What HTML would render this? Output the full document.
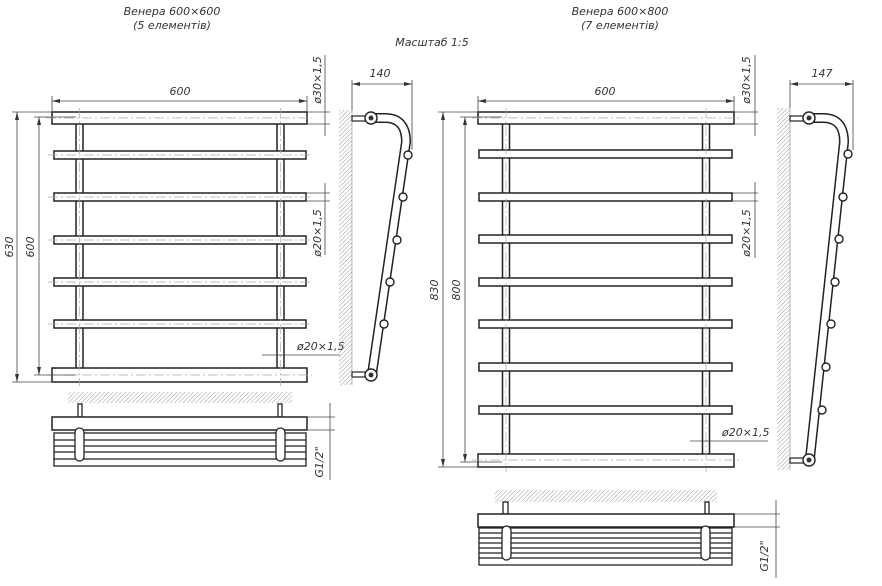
<!DOCTYPE html>
<html><head><meta charset="utf-8"><style>
html,body{margin:0;padding:0;background:#fff;}
svg{display:block}
text{font-family:"DejaVu Sans","Liberation Sans",sans-serif;font-style:italic;fill:#333;font-size:11px}
</style></head><body>
<svg width="882" height="586" viewBox="0 0 882 586" xmlns="http://www.w3.org/2000/svg">
<defs>
<pattern id="h" width="3" height="3" patternUnits="userSpaceOnUse" patternTransform="rotate(45)">
<line x1="0" y1="0" x2="0" y2="3" stroke="#999" stroke-width="1"/></pattern>
<marker id="a" markerWidth="8" markerHeight="6" refX="8" refY="3" orient="auto-start-reverse" markerUnits="userSpaceOnUse">
<path d="M0,1 L8,3 L0,5z" fill="#333"/></marker>
</defs>

<g fill="#fff" stroke="#222" stroke-width="1.6">
</g>

<!-- titles -->
<text x="172" y="15" text-anchor="middle" font-size="12">Венера 600×600</text>
<text x="172" y="29" text-anchor="middle" font-size="12">(5 елементів)</text>
<text x="432" y="46" text-anchor="middle" font-size="12">Масштаб 1:5</text>
<text x="620" y="15" text-anchor="middle" font-size="12">Венера 600×800</text>
<text x="620" y="29" text-anchor="middle" font-size="12">(7 елементів)</text>

<!-- ============ LEFT FRONT ============ -->
<g fill="#fff" stroke="#222" stroke-width="1.5">
<rect x="76" y="114" width="7" height="256" rx="3.5"/>
<rect x="277" y="114" width="7" height="256" rx="3.5"/>
<rect x="52" y="112" width="255" height="12"/>
<rect x="54" y="151" width="252" height="8"/>
<rect x="54" y="193" width="252" height="8"/>
<rect x="54" y="236" width="252" height="8"/>
<rect x="54" y="278" width="252" height="8"/>
<rect x="54" y="320" width="252" height="8"/>
<rect x="52" y="368" width="255" height="14"/>
</g>
<g stroke="#aaa" stroke-width="0.7" stroke-dasharray="10,3,2,3" fill="none">
<line x1="46" y1="118" x2="312" y2="118"/><line x1="46" y1="375" x2="312" y2="375"/>
<line x1="79.5" y1="108" x2="79.5" y2="386"/><line x1="280.5" y1="108" x2="280.5" y2="386"/>
<line x1="48" y1="155" x2="312" y2="155"/><line x1="48" y1="197" x2="312" y2="197"/>
<line x1="48" y1="240" x2="312" y2="240"/><line x1="48" y1="282" x2="312" y2="282"/>
<line x1="48" y1="324" x2="312" y2="324"/>
</g>
<g stroke="#444" stroke-width="0.8" fill="none">
<line x1="52" y1="96" x2="52" y2="112"/><line x1="307" y1="96" x2="307" y2="112"/>
<line x1="52" y1="101" x2="307" y2="101" marker-start="url(#a)" marker-end="url(#a)"/>
<line x1="12" y1="112" x2="52" y2="112"/><line x1="12" y1="382" x2="52" y2="382"/>
<line x1="17" y1="112" x2="17" y2="382" marker-start="url(#a)" marker-end="url(#a)"/>
<line x1="34" y1="117" x2="76" y2="117"/><line x1="34" y1="375" x2="76" y2="375"/>
<line x1="39" y1="117" x2="39" y2="375" marker-start="url(#a)" marker-end="url(#a)"/>
<line x1="307" y1="112" x2="330" y2="112"/><line x1="307" y1="124" x2="330" y2="124"/>
<line x1="325" y1="55" x2="325" y2="136"/>
<line x1="306" y1="193" x2="330" y2="193"/><line x1="306" y1="201" x2="330" y2="201"/>
<line x1="325" y1="183" x2="325" y2="255"/>
<line x1="262" y1="355" x2="340" y2="355"/>
</g>
<text x="180" y="95" text-anchor="middle">600</text>
<text transform="translate(13,247) rotate(-90)" text-anchor="middle">630</text>
<text transform="translate(34,247) rotate(-90)" text-anchor="middle">600</text>
<text transform="translate(321,80) rotate(-90)" text-anchor="middle">ø30×1,5</text>
<text transform="translate(321,233) rotate(-90)" text-anchor="middle">ø20×1,5</text>
<text x="297" y="350">ø20×1,5</text>

<!-- left side view -->
<rect x="339" y="110" width="13" height="275" fill="url(#h)"/>
<line x1="352" y1="110" x2="352" y2="385" stroke="#888" stroke-width="0.6"/>
<g fill="none" stroke-linecap="round">
<path d="M376,118 L385,118 Q406,118 406,142 L372,374" stroke="#222" stroke-width="10"/>
<path d="M376,118 L385,118 Q406,118 406,142 L372,374" stroke="#fff" stroke-width="7"/>
</g>
<rect x="352" y="116" width="14" height="5" fill="#fff" stroke="#222" stroke-width="1.2"/>
<rect x="352" y="372" width="14" height="5" fill="#fff" stroke="#222" stroke-width="1.2"/>
<g fill="#fff" stroke="#222" stroke-width="1.4">
<circle cx="371" cy="118" r="6"/><circle cx="371" cy="375" r="6"/>
<circle cx="408" cy="155" r="4"/><circle cx="403" cy="197" r="4"/><circle cx="397" cy="240" r="4"/>
<circle cx="390" cy="282" r="4"/><circle cx="384" cy="324" r="4"/>
</g>
<circle cx="371" cy="118" r="2.5" fill="#333"/><circle cx="371" cy="375" r="2.5" fill="#333"/>
<g stroke="#444" stroke-width="0.8">
<line x1="352" y1="80" x2="352" y2="110"/><line x1="412" y1="80" x2="412" y2="150"/>
<line x1="352" y1="84" x2="412" y2="84" marker-start="url(#a)" marker-end="url(#a)"/>
</g>
<text x="380" y="77" text-anchor="middle">140</text>

<!-- left bottom view -->
<rect x="68" y="392" width="224" height="11" fill="url(#h)"/>
<g fill="#fff" stroke="#222" stroke-width="1.3">
<rect x="78" y="404" width="4" height="13"/><rect x="278" y="404" width="4" height="13"/>
<rect x="54" y="433" width="252" height="33"/>
<line x1="54" y1="440" x2="306" y2="440"/><line x1="54" y1="446" x2="306" y2="446"/>
<line x1="54" y1="452" x2="306" y2="452"/><line x1="54" y1="459" x2="306" y2="459"/>
<rect x="52" y="417" width="255" height="13" stroke-width="1.5"/>
<rect x="75" y="428" width="9" height="33" rx="4.5"/><rect x="276" y="428" width="9" height="33" rx="4.5"/>
</g>
<g stroke="#444" stroke-width="0.8">
<line x1="307" y1="417" x2="335" y2="417"/><line x1="307" y1="430" x2="335" y2="430"/>
<line x1="330" y1="403" x2="330" y2="480"/>
</g>
<text transform="translate(323,462) rotate(-90)" text-anchor="middle">G1/2"</text>

<!-- ============ RIGHT FRONT ============ -->
<g fill="#fff" stroke="#222" stroke-width="1.5">
<rect x="502.5" y="114" width="7" height="344" rx="3.5"/>
<rect x="702.5" y="114" width="7" height="344" rx="3.5"/>
<rect x="478" y="112" width="256" height="12"/>
<rect x="479" y="150" width="253" height="8"/>
<rect x="479" y="193" width="253" height="8"/>
<rect x="479" y="235" width="253" height="8"/>
<rect x="479" y="278" width="253" height="8"/>
<rect x="479" y="320" width="253" height="8"/>
<rect x="479" y="363" width="253" height="8"/>
<rect x="479" y="406" width="253" height="8"/>
<rect x="478" y="454" width="256" height="13"/>
</g>
<g stroke="#aaa" stroke-width="0.7" stroke-dasharray="10,3,2,3" fill="none">
<line x1="472" y1="118" x2="740" y2="118"/><line x1="472" y1="460" x2="740" y2="460"/>
<line x1="506" y1="108" x2="506" y2="472"/><line x1="706" y1="108" x2="706" y2="472"/>
</g>
<g stroke="#444" stroke-width="0.8" fill="none">
<line x1="478" y1="96" x2="478" y2="112"/><line x1="734" y1="96" x2="734" y2="112"/>
<line x1="478" y1="101" x2="734" y2="101" marker-start="url(#a)" marker-end="url(#a)"/>
<line x1="438" y1="112" x2="478" y2="112"/><line x1="438" y1="467" x2="478" y2="467"/>
<line x1="443" y1="112" x2="443" y2="467" marker-start="url(#a)" marker-end="url(#a)"/>
<line x1="460" y1="117" x2="502" y2="117"/><line x1="460" y1="462" x2="502" y2="462"/>
<line x1="465" y1="117" x2="465" y2="462" marker-start="url(#a)" marker-end="url(#a)"/>
<line x1="734" y1="112" x2="758" y2="112"/><line x1="734" y1="124" x2="758" y2="124"/>
<line x1="755" y1="55" x2="755" y2="136"/>
<line x1="732" y1="193" x2="758" y2="193"/><line x1="732" y1="201" x2="758" y2="201"/>
<line x1="755" y1="182" x2="755" y2="258"/>
<line x1="690" y1="441" x2="768" y2="441"/>
</g>
<text x="605" y="95" text-anchor="middle">600</text>
<text transform="translate(438,290) rotate(-90)" text-anchor="middle">830</text>
<text transform="translate(460,290) rotate(-90)" text-anchor="middle">800</text>
<text transform="translate(750,80) rotate(-90)" text-anchor="middle">ø30×1,5</text>
<text transform="translate(750,233) rotate(-90)" text-anchor="middle">ø20×1,5</text>
<text x="722" y="436">ø20×1,5</text>

<!-- right side view -->
<rect x="777" y="108" width="13" height="362" fill="url(#h)"/>
<line x1="790" y1="108" x2="790" y2="470" stroke="#888" stroke-width="0.6"/>
<g fill="none" stroke-linecap="round">
<path d="M814,118 L823,118 Q844,118 844,142 L810,458" stroke="#222" stroke-width="10"/>
<path d="M814,118 L823,118 Q844,118 844,142 L810,458" stroke="#fff" stroke-width="7"/>
</g>
<rect x="790" y="116" width="14" height="5" fill="#fff" stroke="#222" stroke-width="1.2"/>
<rect x="790" y="458" width="14" height="5" fill="#fff" stroke="#222" stroke-width="1.2"/>
<g fill="#fff" stroke="#222" stroke-width="1.4">
<circle cx="809" cy="118" r="6"/><circle cx="809" cy="460" r="6"/>
<circle cx="848" cy="154" r="4"/><circle cx="843" cy="197" r="4"/><circle cx="839" cy="239" r="4"/>
<circle cx="835" cy="282" r="4"/><circle cx="831" cy="324" r="4"/><circle cx="826" cy="367" r="4"/>
<circle cx="822" cy="410" r="4"/>
</g>
<circle cx="809" cy="118" r="2.5" fill="#333"/><circle cx="809" cy="460" r="2.5" fill="#333"/>
<g stroke="#444" stroke-width="0.8">
<line x1="790" y1="80" x2="790" y2="108"/><line x1="853" y1="80" x2="853" y2="150"/>
<line x1="790" y1="84" x2="853" y2="84" marker-start="url(#a)" marker-end="url(#a)"/>
</g>
<text x="822" y="77" text-anchor="middle">147</text>

<!-- right bottom view -->
<rect x="495" y="490" width="222" height="12" fill="url(#h)"/>
<g fill="#fff" stroke="#222" stroke-width="1.3">
<rect x="503" y="502" width="5" height="12"/><rect x="705" y="502" width="4" height="12"/>
<rect x="479" y="528" width="253" height="37"/>
<line x1="479" y1="533" x2="732" y2="533"/><line x1="479" y1="538" x2="732" y2="538"/>
<line x1="479" y1="543" x2="732" y2="543"/><line x1="479" y1="548" x2="732" y2="548"/>
<line x1="479" y1="553" x2="732" y2="553"/><line x1="479" y1="558" x2="732" y2="558"/>
<rect x="478" y="514" width="256" height="13" stroke-width="1.5"/>
<rect x="502" y="526" width="9" height="34" rx="4.5"/><rect x="701" y="526" width="9" height="34" rx="4.5"/>
</g>
<g stroke="#444" stroke-width="0.8">
<line x1="734" y1="514" x2="780" y2="514"/><line x1="734" y1="527" x2="780" y2="527"/>
<line x1="776" y1="500" x2="776" y2="578"/>
</g>
<text transform="translate(768,556) rotate(-90)" text-anchor="middle">G1/2"</text>
</svg>
</body></html>
